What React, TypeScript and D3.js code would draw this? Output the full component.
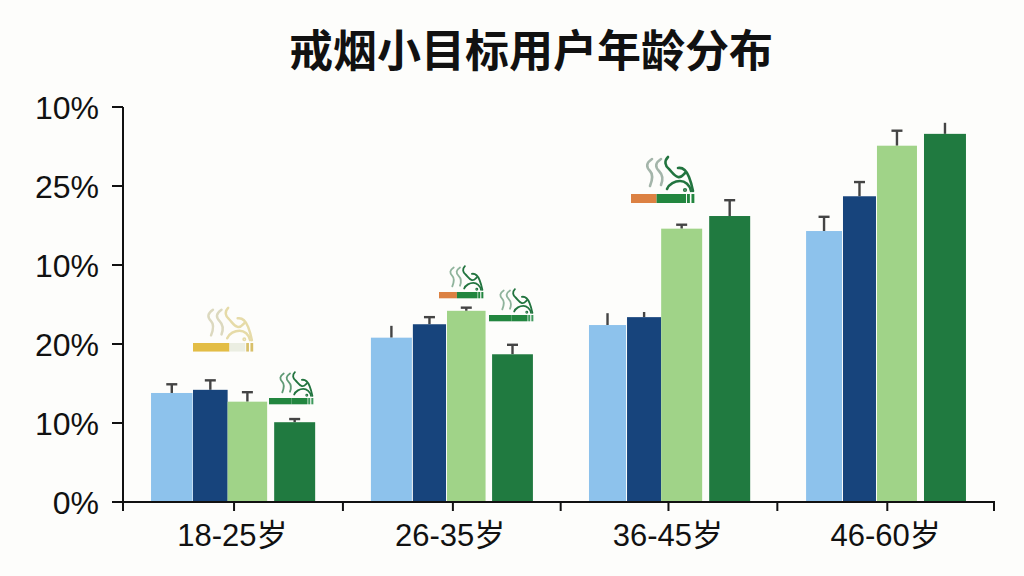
import React from "react";
import * as d3 from "d3";

const titleText = "戒烟小目标用户年龄分布";
const categories = ["18-25岁", "26-35岁", "36-45岁", "46-60岁"];
const yTickValues = [0, 10, 20, 30, 40, 50];
const yTickLabels = ["0%", "10%", "20%", "10%", "25%", "10%"];
const xTickUnits = [0, 1.02, 2.02, 3.03, 4.02, 5.01, 6.01, 7.02, 8];
const seriesLightBlue = [13.8, 20.8, 22.4, 34.3];
const seriesNavy = [14.2, 22.5, 23.4, 38.7];
const seriesLightGreen = [12.7, 24.2, 34.6, 45.1];
const seriesDarkGreen = [10.1, 18.7, 36.2, 46.6];
const upperLightBlue = [14.9, 22.3, 23.9, 36.1];
const upperNavy = [15.4, 23.4, 24.05, 40.5];
const upperLightGreen = [13.9, 24.6, 35.1, 47.0];
const upperDarkGreen = [10.5, 19.9, 38.2, 48.0];
const capLightBlue = [true, false, false, true];
const capNavy = [true, true, false, true];
const capLightGreen = [true, true, true, true];
const capDarkGreen = [true, true, true, false];

const COLORS = ["#8dc2ec", "#17447c", "#a0d388", "#207a40"];
const ERR = "#444444";
const INK = "#111111";
const FONT = '"Liberation Sans", "Noto Sans CJK SC", sans-serif';
const CJK = '"Noto Sans CJK SC", sans-serif';

// Fractions of each category band taken by each bar: [start, end] per series.
const barSpans = [
  [[0.005, 0.259], [0.262, 0.474], [0.474, 0.716], [0.759, 1.01]],
  [[0.018, 0.269], [0.275, 0.478], [0.484, 0.72], [0.76, 1.01]],
  [[0.02, 0.247], [0.253, 0.462], [0.462, 0.713], [0.756, 1.007]],
  [[0.016, 0.236], [0.242, 0.444], [0.45, 0.695], [0.738, 0.995]],
];

const x = d3.scaleBand<string>().domain(categories).range([123, 994]).paddingInner(0.25).paddingOuter(0.125);
const xTick = d3.scaleLinear().domain([0, 8]).range([123, 994]);
const y = d3.scaleLinear().domain([0, 50]).range([502, 107]);

const values = [seriesLightBlue, seriesNavy, seriesLightGreen, seriesDarkGreen];
const uppers = [upperLightBlue, upperNavy, upperLightGreen, upperDarkGreen];
const caps = [capLightBlue, capNavy, capLightGreen, capDarkGreen];

type IconProps = {
  tx: number; ty: number; k: number; first: string; firstEnd: number; second: string;
  smoke: string; smoke2: string; stripe: string;
};

function Icon({ tx, ty, k, first, firstEnd, second, smoke, smoke2, stripe }: IconProps) {
  const w = 64;
  return (
    <g transform={`translate(${tx},${ty}) scale(${k})`} fill="none" strokeLinecap="round">
      <g stroke={smoke} strokeWidth={2.6}>
        <path d="M21,-35 C15,-31 15,-27 19,-23 C23,-19 21,-13 19,-8" />
        <path d="M30,-35 C24,-31 24,-27 28,-23 C32,-19 32,-14 30,-9" />
      </g>
      <g stroke={smoke2} strokeWidth={2.6}>
        <path d="M37,-37 C33,-33 34,-28 38,-25 C41,-22 43,-18 47,-17 C50,-16 52,-19 54,-21" />
        <path d="M47,-26 C53,-27 56,-22 58,-17 C60,-12 61,-8 62,-3" />
        <path d="M36,-5 C38,-10 44,-13 49,-13 C54,-13 59,-9 60,-3" />
        <circle cx={54} cy={-4} r={0.8} />
      </g>
      <rect x={0} y={0} width={w * firstEnd} height={9} fill={first} />
      <rect x={w * firstEnd} y={0} width={w * (0.86 - firstEnd)} height={9} fill={second} />
      <rect x={w * 0.875} y={0} width={w * 0.045} height={9} fill={stripe} />
      <rect x={w * 0.945} y={0} width={w * 0.045} height={9} fill={stripe} />
    </g>
  );
}

export default function App() {
  const band = x.bandwidth();
  return (
    <svg width={1024} height={576} viewBox="0 0 1024 576" style={{ position: "absolute", left: 0, top: 0, display: "block" }}>
      <rect width={1024} height={576} fill="#fdfdfb" />
      <text x={531} y={67} textAnchor="middle" fontFamily={CJK} fontWeight={700} fontSize={44} fill={INK}>{titleText}</text>

      {categories.map((c, gi) => (
        <g key={c}>
          {values.map((vals, si) => {
            const [a, b] = barSpans[gi][si];
            const x0 = (x(c) as number) + a * band;
            const x1 = (x(c) as number) + b * band;
            const cx = (x0 + x1) / 2;
            return (
              <g key={si}>
                <line x1={cx} x2={cx} y1={y(vals[gi])} y2={y(uppers[si][gi])} stroke={ERR} strokeWidth={2.4} />
                {caps[si][gi] && (
                  <line x1={cx - 5.5} x2={cx + 5.5} y1={y(uppers[si][gi])} y2={y(uppers[si][gi])} stroke={ERR} strokeWidth={2.4} />
                )}
                <rect x={x0} y={y(vals[gi])} width={x1 - x0} height={y(0) - y(vals[gi])} fill={COLORS[si]} />
              </g>
            );
          })}
        </g>
      ))}

      <Icon tx={193} ty={343} k={0.95} first="#e3bd45" firstEnd={0.6} second="#ebeee2" smoke="#dcd9bf" smoke2="#e6dba8" stripe="#d8c06a" />
      <Icon tx={269} ty={398} k={0.7} first="#22863f" firstEnd={0.5} second="#22863f" smoke="#5f9a75" smoke2="#22743f" stripe="#3e9a5c" />
      <Icon tx={439} ty={292} k={0.7} first="#dc8142" firstEnd={0.4} second="#22863f" smoke="#8fb39c" smoke2="#22743f" stripe="#22863f" />
      <Icon tx={489} ty={315} k={0.7} first="#22863f" firstEnd={0.5} second="#22863f" smoke="#8fb39c" smoke2="#22743f" stripe="#3e9a5c" />
      <Icon tx={631} ty={194} k={1.0} first="#dc8142" firstEnd={0.4} second="#22863f" smoke="#a4b5aa" smoke2="#22743f" stripe="#22863f" />

      <line x1={123} x2={123} y1={107} y2={502} stroke={INK} strokeWidth={2} />
      {yTickValues.map((t, i) => (
        <g key={i}>
          <line x1={112} x2={123} y1={y(t)} y2={y(t)} stroke={INK} strokeWidth={2} />
          <text x={99} y={y(t) + 11.5} textAnchor="end" fontFamily={FONT} fontSize={32} fill={INK}>{yTickLabels[i]}</text>
        </g>
      ))}
      <line x1={112} x2={995} y1={502} y2={502} stroke={INK} strokeWidth={2} />
      {xTickUnits.map((u, i) => (
        <line key={i} x1={xTick(u)} x2={xTick(u)} y1={502} y2={511} stroke={INK} strokeWidth={2} />
      ))}
      {categories.map((c) => (
        <text key={c} x={(x(c) as number) + band / 2 + 0.5} y={546} textAnchor="middle" fontFamily={FONT} fontSize={31} fill={INK}>{c}</text>
      ))}
    </svg>
  );
}
